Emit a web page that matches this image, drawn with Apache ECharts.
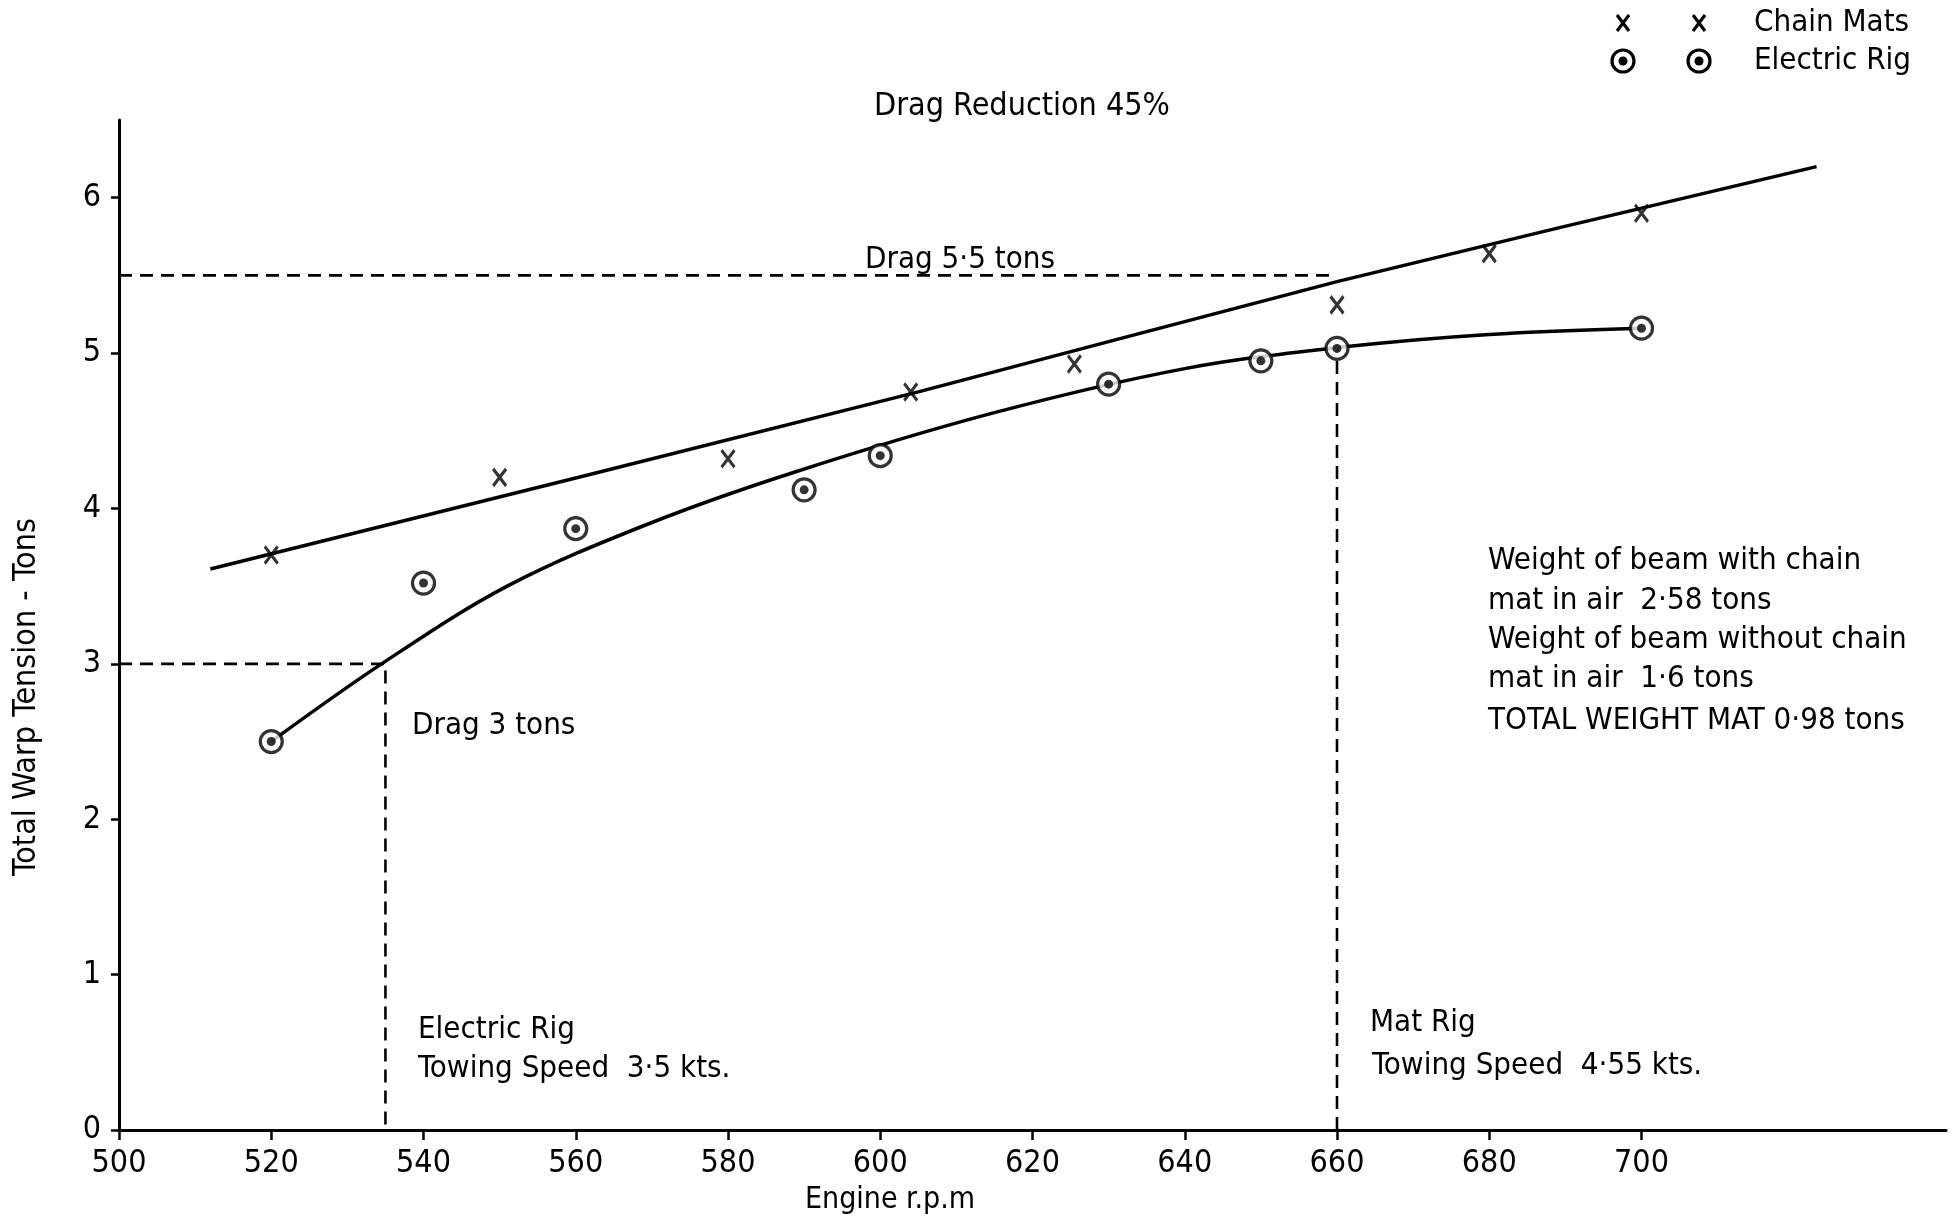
<!DOCTYPE html>
<html>
<head>
<meta charset="utf-8">
<title>Total Warp Tension vs Engine r.p.m</title>
<script src="https://cdn.jsdelivr.net/npm/echarts@6/dist/echarts.min.js"></script>
<style>
  html, body { margin: 0; padding: 0; background: #ffffff; }
  #chart { width: 1952px; height: 1219px; }
</style>
</head>
<body>
<div id="chart"></div>
<script>
// Axis ticks
const rpmTicks = [500, 520, 540, 560, 580, 600, 620, 640, 660, 680, 700];
const tensionTicks = [0, 1, 2, 3, 4, 5, 6];

// Measured points: chain mats (x)
const chainMatsRpm = [520, 550, 580, 604, 625.5, 660, 680, 700];
const chainMatsTension = [3.7, 4.2, 4.32, 4.75, 4.93, 5.31, 5.64, 5.9];

// Measured points: electric rig (dotted circles)
const electricRigRpm = [520, 540, 560, 590, 600, 630, 650, 660, 700];
const electricRigTension = [2.5, 3.52, 3.87, 4.12, 4.34, 4.8, 4.95, 5.03, 5.16];

// Fitted line through the chain mat points
const chainCurveRpm = [512, 605, 660, 723];
const chainCurveTension = [3.61, 4.75, 5.46, 6.2];

// Fitted curve through the electric rig points
const electricCurveRpm = [520, 534.5, 551, 569.5, 588.5, 614.5, 640, 661, 680, 700];
const electricCurveTension = [2.5, 3.0, 3.5, 3.9, 4.23, 4.61, 4.9, 5.04, 5.12, 5.16];

// Drag reference levels and the engine speeds where they are reached
const electricDrag = 3;
const electricDragRpm = 535;
const matDrag = 5.5;
const matDragRpm = 660;
const matRigTopTension = 5.03;

const zip = (xs, ys) => xs.map((x, i) => [x, ys[i]]);
const FONT = '"DejaVu Sans Condensed", "Liberation Sans Narrow", "Liberation Sans", sans-serif';
const INK = '#000000';

const chart = echarts.init(document.getElementById('chart'), null, { renderer: 'canvas' });

function label(text, x, y, size) {
  return {
    type: 'text', x: x, y: y, z: 10,
    style: { text: text, fill: INK, font: (size || 30) + 'px ' + FONT, align: 'left', verticalAlign: 'middle' }
  };
}
function crossMark(cx, cy) {
  return [
    { type: 'line', shape: { x1: cx - 6, y1: cy - 8, x2: cx + 6, y2: cy + 8 }, style: { stroke: INK, lineWidth: 3.2 } },
    { type: 'line', shape: { x1: cx + 6, y1: cy - 8, x2: cx - 6, y2: cy + 8 }, style: { stroke: INK, lineWidth: 3.2 } }
  ];
}
function ringMark(cx, cy) {
  return [
    { type: 'circle', shape: { cx: cx, cy: cy, r: 11 }, style: { fill: '#fff', stroke: INK, lineWidth: 3.2 } },
    { type: 'circle', shape: { cx: cx, cy: cy, r: 4.5 }, style: { fill: INK } }
  ];
}

const dashed = { color: INK, width: 2.6, type: [13, 8] };

const option = {
  backgroundColor: '#ffffff',
  animation: false,
  grid: { left: 119, right: 6, top: 120, bottom: 89, containLabel: false },
  xAxis: {
    type: 'value', min: 500, max: 740, interval: 20,
    axisLine: { show: true, lineStyle: { color: INK, width: 3 } },
    axisTick: { show: true, inside: false, length: 10, customValues: rpmTicks, lineStyle: { color: INK, width: 2.5 } },
    axisLabel: { customValues: rpmTicks, color: INK, fontSize: 32, fontFamily: FONT, margin: 18 },
    splitLine: { show: false }
  },
  yAxis: {
    type: 'value', min: 0, max: 6.5, interval: 1,
    axisLine: { show: true, lineStyle: { color: INK, width: 3 } },
    axisTick: { show: true, inside: false, length: 8, customValues: tensionTicks, lineStyle: { color: INK, width: 2.5 } },
    axisLabel: { customValues: tensionTicks, color: INK, fontSize: 32, fontFamily: FONT, margin: 18 },
    splitLine: { show: false }
  },
  series: [
    {
      name: 'Chain Mats fit', type: 'line', data: zip(chainCurveRpm, chainCurveTension),
      smooth: 0.25, showSymbol: false, z: 2,
      lineStyle: { color: INK, width: 3.5 }
    },
    {
      name: 'Electric Rig fit', type: 'line', data: zip(electricCurveRpm, electricCurveTension),
      smooth: 0.35, showSymbol: false, z: 2,
      lineStyle: { color: INK, width: 3.5 }
    },
    {
      name: 'Electric drag', type: 'line', showSymbol: false, z: 1,
      data: [[500, electricDrag], [electricDragRpm, electricDrag], [electricDragRpm, 0]],
      lineStyle: dashed
    },
    {
      name: 'Mat drag', type: 'line', showSymbol: false, z: 1,
      data: [[500, matDrag], [matDragRpm, matDrag]],
      lineStyle: dashed
    },
    {
      name: 'Mat rig speed', type: 'line', showSymbol: false, z: 1,
      data: [[matDragRpm, 0], [matDragRpm, matRigTopTension]],
      lineStyle: dashed
    },
    {
      name: 'Chain Mats', type: 'scatter', data: zip(chainMatsRpm, chainMatsTension), z: 5,
      symbol: 'path://M0,0L12,16M12,0L0,16', symbolSize: [13, 17],
      itemStyle: { color: 'rgba(0,0,0,0)', borderColor: INK, borderWidth: 3.2 }
    },
    {
      name: 'Electric Rig', type: 'scatter', data: zip(electricRigRpm, electricRigTension), z: 5,
      symbol: 'circle', symbolSize: 22,
      itemStyle: { color: '#ffffff', borderColor: INK, borderWidth: 3.2 }
    },
    {
      name: 'Electric Rig centre', type: 'scatter', data: zip(electricRigRpm, electricRigTension), z: 6,
      symbol: 'circle', symbolSize: 9,
      itemStyle: { color: INK }
    }
  ],
  graphic: [
    // key
    ...crossMark(1623, 23), ...crossMark(1699, 23),
    label('Chain Mats', 1754, 23, 31),
    ...ringMark(1623, 61), ...ringMark(1699, 61),
    label('Electric Rig', 1754, 61, 31),
    // annotations
    label('Drag Reduction 45%', 874, 107, 32),
    label('Drag 5·5 tons', 865, 260, 31),
    label('Weight of beam with chain', 1488, 561, 31),
    label('mat in air  2·58 tons', 1488, 601, 31),
    label('Weight of beam without chain', 1488, 640, 31),
    label('mat in air  1·6 tons', 1488, 679, 31),
    label('TOTAL WEIGHT MAT 0·98 tons', 1488, 721, 31),
    label('Drag 3 tons', 412, 726, 31),
    label('Electric Rig', 418, 1030, 31),
    label('Towing Speed  3·5 kts.', 418, 1069, 31),
    label('Mat Rig', 1370, 1023, 31),
    label('Towing Speed  4·55 kts.', 1372, 1066, 31),
    // axis titles
    {
      type: 'text', x: 890, y: 1200, z: 10,
      style: { text: 'Engine r.p.m', fill: INK, font: '30px ' + FONT, align: 'center', verticalAlign: 'middle' }
    },
    {
      type: 'text', x: 27, y: 697, rotation: Math.PI / 2, z: 10,
      style: { text: 'Total Warp Tension - Tons', fill: INK, font: '32px ' + FONT, align: 'center', verticalAlign: 'middle' }
    }
  ]
};

chart.setOption(option);
</script>
</body>
</html>
